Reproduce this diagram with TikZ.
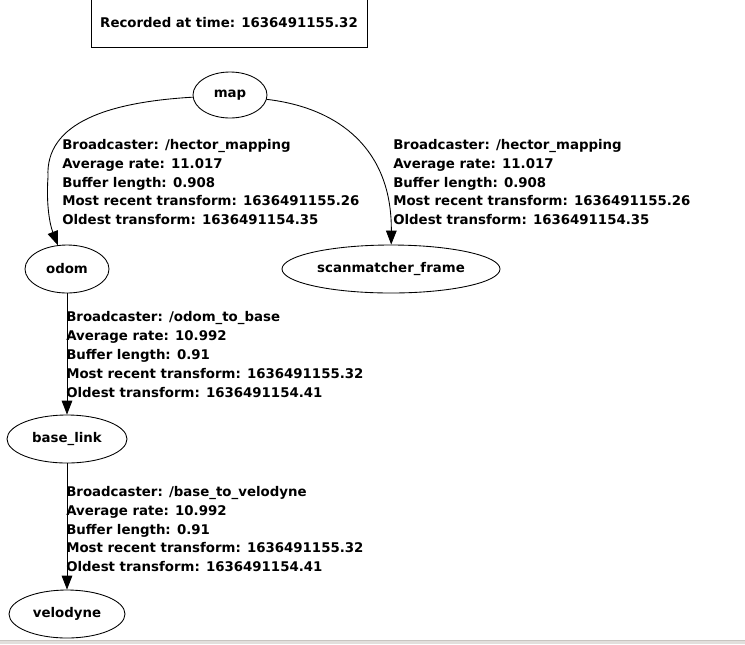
\documentclass[tikz,border=0pt]{standalone}
\usepackage{fontspec}
\setmainfont{DejaVu Sans}
\usetikzlibrary{shapes.geometric,arrows.meta}
\definecolor{bandgray}{RGB}{226,223,220}
\definecolor{bandline}{RGB}{200,196,192}

\begin{document}
\begin{tikzpicture}
    [
    x=0.75pt,y=-0.75pt,
    frame/.style={ellipse,draw,line width=0.65pt,inner sep=0pt,minimum height=36pt,font=\bfseries\fontsize{10}{12}\selectfont},
    info/.style={anchor=north west,inner sep=0pt,align=left,font=\bfseries\fontsize{10}{14.1}\selectfont},
    edge/.style={line width=0.65pt,-{Triangle[length=10.5pt,width=8pt]}}
    ]
    \useasboundingbox (0,0) rectangle (745,644);
    \clip (0,0) rectangle (745,644);
    \fill [bandgray] (0,640.5) rectangle (745,644);
    \draw [bandline] (0,640.5) -- (745,640.5);

    \node (stamp) at (229,23) [draw,line width=0.65pt,minimum width=207pt,minimum height=36.75pt,inner sep=0pt,font=\bfseries\fontsize{10}{12}\selectfont] {Recorded at time: 1636491155.32};

    \node (map) at (230,95) [frame,minimum width=55.5pt,minimum height=34.5pt] {map};
    \node (odom) at (67,269) [frame,minimum width=63pt] {odom};
    \node (scan) at (391,269) [frame,minimum width=163.5pt] {scanmatcher\_frame};
    \node (base) at (67,439) [frame,minimum width=90pt] {base\_link};
    \node (velo) at (67,614) [frame,minimum width=87pt] {velodyne};

    \draw [edge] (map) .. controls (110,102) and (45,122) .. (48,177) .. controls (46,205) and (50,225) .. (odom);
    \draw [edge] (map) .. controls (340,108) and (392,150) .. (scan);
    \draw [edge] (odom) -- (base);
    \draw [edge] (base) -- (velo);

    \node (lmap) at (62,139) [info] {Broadcaster: /hector\_mapping\\Average rate: 11.017\\Buffer length: 0.908\\Most recent transform: 1636491155.26\\Oldest transform: 1636491154.35};
    \node (rmap) at (393,139) [info] {Broadcaster: /hector\_mapping\\Average rate: 11.017\\Buffer length: 0.908\\Most recent transform: 1636491155.26\\Oldest transform: 1636491154.35};
    \node (lodom) at (66,311.5) [info] {Broadcaster: /odom\_to\_base\\Average rate: 10.992\\Buffer length: 0.91\\Most recent transform: 1636491155.32\\Oldest transform: 1636491154.41};
    \node (lbase) at (66,486) [info] {Broadcaster: /base\_to\_velodyne\\Average rate: 10.992\\Buffer length: 0.91\\Most recent transform: 1636491155.32\\Oldest transform: 1636491154.41};
\end{tikzpicture}
\end{document}
